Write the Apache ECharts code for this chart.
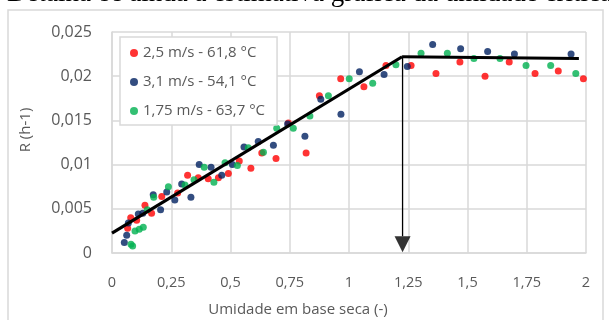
<!DOCTYPE html>
<html>
<head>
<meta charset="utf-8">
<script src="https://cdn.jsdelivr.net/npm/echarts@6/dist/echarts.min.js"></script>
<style>
html,body{margin:0;padding:0;background:#fff;}
#c{width:609px;height:320px;}
</style>
</head>
<body>
<div id="c"></div>
<script>
// ---- data ----
var seriesNames = ['2,5 m/s - 61,8 °C', '3,1 m/s - 54,1 °C', '1,75 m/s - 63,7 °C'];
var red = [[0.066,0.0028],[0.079,0.0040],[0.104,0.0037],[0.139,0.0054],[0.167,0.0045],[0.21,0.0064],[0.277,0.0068],[0.319,0.0088],[0.364,0.0085],[0.406,0.0084],[0.449,0.0085],[0.491,0.0090],[0.537,0.0104],[0.586,0.0096],[0.632,0.0113],[0.692,0.0107],[0.744,0.0147],[0.819,0.0113],[0.875,0.0178],[0.965,0.0197],[1.063,0.0188],[1.156,0.0212],[1.262,0.0212],[1.367,0.0203],[1.468,0.0216],[1.574,0.0200],[1.676,0.0216],[1.785,0.0203],[1.883,0.0206],[1.989,0.0197]];
var blue = [[0.052,0.0012],[0.062,0.0020],[0.069,0.0034],[0.111,0.0044],[0.13,0.0045],[0.174,0.0066],[0.205,0.0049],[0.231,0.0069],[0.265,0.0060],[0.294,0.0078],[0.333,0.0063],[0.368,0.0100],[0.418,0.0097],[0.463,0.0088],[0.508,0.0100],[0.557,0.0120],[0.617,0.0126],[0.681,0.0122],[0.741,0.0146],[0.814,0.0132],[0.881,0.0174],[0.966,0.0157],[1.044,0.0205],[1.148,0.0202],[1.246,0.0211],[1.353,0.0236],[1.471,0.0231],[1.585,0.0228],[1.698,0.0225],[1.937,0.0225]];
var green = [[0.08,0.0010],[0.087,0.0008],[0.097,0.0025],[0.115,0.0027],[0.132,0.0029],[0.149,0.0049],[0.176,0.0063],[0.238,0.0075],[0.308,0.0077],[0.346,0.0083],[0.389,0.0097],[0.43,0.0080],[0.477,0.0102],[0.529,0.0099],[0.575,0.0119],[0.639,0.0114],[0.695,0.0141],[0.765,0.0141],[0.835,0.0155],[0.913,0.0178],[1.001,0.0197],[1.1,0.0192],[1.198,0.0213],[1.304,0.0226],[1.415,0.0226],[1.527,0.0220],[1.637,0.0220],[1.747,0.0212],[1.851,0.0212],[1.957,0.0203]];
var fallingLine = [[0,0.00226],[1.224,0.0222]];
var constantLine = [[1.224,0.0222],[1.97,0.0220]];
var criticalX = 1.226;
var arrowLine = [[criticalX,0.0222],[criticalX,0.0019]];
var arrowHead = [[criticalX,0.001]];
var xTicks = ['0','0,25','0,5','0,75','1','1,25','1,5','1,75','2'];
var yTicks = ['0','0,005','0,01','0,015','0,02','0,025'];

var colors = ['#FF0000','#002060','#00B050'];
var font = 'Open Sans';
var grey = '#595959';

var chart = echarts.init(document.getElementById('c'), null, {renderer:'canvas'});
chart.setOption({
  animation:false,
  backgroundColor:'#fff',
  grid:{left:112,right:23,top:32,bottom:67},
  xAxis:{type:'value',min:0,max:2,interval:0.25,
    axisLine:{show:true,lineStyle:{color:'#d9d9d9',width:1.5}},
    axisTick:{show:false},
    splitLine:{show:true,lineStyle:{color:'#d9d9d9',width:1.5}},
    axisLabel:{margin:22,color:grey,fontFamily:font,fontSize:14.5,
      formatter:function(v){return xTicks[Math.round(v/0.25)];}}
  },
  yAxis:{type:'value',min:0,max:0.025,interval:0.005,
    axisLine:{show:true,lineStyle:{color:'#d9d9d9',width:1.5}},
    axisTick:{show:false},
    splitLine:{show:true,lineStyle:{color:'#d9d9d9',width:1.5}},
    axisLabel:{margin:20,color:grey,fontFamily:font,fontSize:16,
      formatter:function(v){return yTicks[Math.round(v/0.005)];}}
  },
  legend:{
    data:seriesNames,left:120,top:37,orient:'vertical',
    icon:'circle',itemWidth:8,itemHeight:8,itemGap:13,
    padding:[8,12,6,10],
    borderColor:'#d9d9d9',borderWidth:1.5,backgroundColor:'#fff',
    textStyle:{color:grey,fontFamily:font,fontSize:15,lineHeight:16}
  },
  series:[
    {name:seriesNames[0],type:'scatter',data:red,symbolSize:7,itemStyle:{color:colors[0]},z:3},
    {name:seriesNames[1],type:'scatter',data:blue,symbolSize:7,itemStyle:{color:colors[1]},z:3},
    {name:seriesNames[2],type:'scatter',data:green,symbolSize:7,itemStyle:{color:colors[2]},z:3},
    {type:'line',data:fallingLine,symbol:'none',lineStyle:{color:'#000',width:3.2},z:4},
    {type:'line',data:constantLine,symbol:'none',lineStyle:{color:'#000',width:3.2},z:4},
    {type:'line',data:arrowLine,symbol:'none',lineStyle:{color:'#000',width:1.3},z:4},
    {type:'scatter',data:arrowHead,symbol:'triangle',symbolRotate:180,symbolSize:[16,16],itemStyle:{color:'#000'},z:5}
  ],
  graphic:[
    {type:'rect',shape:{x:8,y:10,width:595,height:330},style:{fill:null,stroke:'#d9d9d9',lineWidth:1.5},z:-1,silent:true},
    {type:'text',x:7,y:-6,style:{text:'Detalha-se ainda a estimativa gráfica da umidade crítica.',font:'27px "Liberation Serif"',fill:'#000',verticalAlign:'middle',align:'left'}},
    {type:'text',x:26,y:130,rotation:Math.PI/2,style:{text:'R (h-1)',font:'15px "Open Sans"',fill:grey,align:'center',verticalAlign:'middle'}},
    {type:'text',x:298,y:310,style:{text:'Umidade em base seca (-)',font:'15px "Open Sans"',fill:grey,align:'center',verticalAlign:'middle'}}
  ]
});
</script>
</body>
</html>
